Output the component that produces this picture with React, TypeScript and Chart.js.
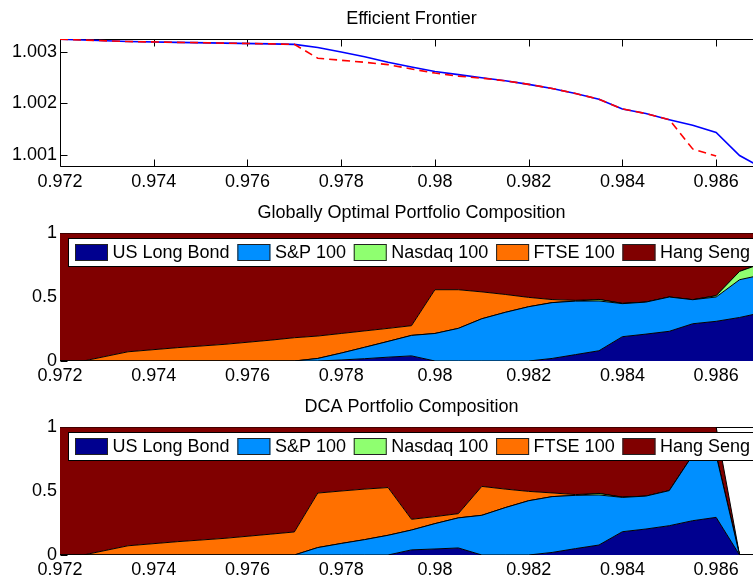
import React, { useEffect, useRef } from "react";
import { Chart, registerables } from "chart.js";
Chart.register(...registerables);

// ---------- data ----------
const risk = [0.972, 0.9725, 0.97345, 0.9745, 0.9755, 0.9765, 0.977, 0.9775, 0.978, 0.9785, 0.979, 0.9795, 0.98, 0.9805, 0.981, 0.9815, 0.982, 0.9825, 0.983, 0.9835, 0.984, 0.9845, 0.985, 0.9855, 0.986, 0.9865, 0.987];

const frontierGlobal = [1.00325, 1.003235, 1.003205, 1.00319, 1.003175, 1.00316, 1.00315, 1.00309, 1.003, 1.00291, 1.0028, 1.00271, 1.00262, 1.00256, 1.0025, 1.00244, 1.00237, 1.00229, 1.00219, 1.00208, 1.00189, 1.0018, 1.00168, 1.00157, 1.00143, 1.00098, 1.00073];
const frontierDca = [1.00325, 1.003235, 1.003205, 1.00319, 1.003175, 1.00316, 1.00315, 1.00288, 1.00284, 1.0028, 1.002755, 1.00267, 1.00259, 1.00253, 1.00249, 1.00244, 1.00237, 1.00229, 1.00219, 1.00208, 1.00189, 1.0018, 1.00168, 1.00111, 1.00097, null, null];

const globalBond = [0, 0, 0, 0, 0, 0, 0, 0, 0.008, 0.018, 0.03, 0.04, 0, 0, 0, 0, 0, 0.02, 0.05, 0.08, 0.19, 0.21, 0.232, 0.291, 0.31, 0.34, 0.38];
const globalSp = [0, 0, 0, 0, 0, 0, 0, 0.02, 0.054, 0.089, 0.123, 0.16, 0.215, 0.255, 0.33, 0.38, 0.424, 0.436, 0.418, 0.389, 0.258, 0.25, 0.268, 0.188, 0.19, 0.295, 0.295];
const globalNas = [0, 0, 0, 0, 0, 0, 0, 0, 0, 0, 0, 0, 0, 0, 0, 0, 0, 0, 0, 0.012, 0.002, 0, 0, 0, 0.01, 0.065, 0.09];
const globalFtse = [0, 0, 0.072, 0.104, 0.13, 0.163, 0.182, 0.175, 0.153, 0.128, 0.102, 0.076, 0.342, 0.302, 0.21, 0.14, 0.073, 0.024, 0.006, 0, 0, 0, 0, 0, 0, 0, 0];
const globalHang = [1, 1, 0.928, 0.896, 0.87, 0.837, 0.818, 0.805, 0.785, 0.765, 0.745, 0.724, 0.443, 0.443, 0.46, 0.48, 0.503, 0.52, 0.526, 0.519, 0.55, 0.54, 0.5, 0.521, 0.49, 0.3, 0.235];

const dcaBond = [0, 0, 0, 0, 0, 0, 0, 0, 0, 0, 0, 0.04, 0.047, 0.055, 0, 0, 0, 0.02, 0.05, 0.078, 0.182, 0.203, 0.229, 0.268, 0.294, 0];
const dcaSp = [0, 0, 0, 0, 0, 0, 0, 0.058, 0.09, 0.12, 0.154, 0.155, 0.198, 0.235, 0.31, 0.37, 0.424, 0.436, 0.416, 0.391, 0.268, 0.257, 0.274, 0.512, 0.486, 0];
const dcaNas = [0, 0, 0, 0, 0, 0, 0, 0, 0, 0, 0, 0, 0, 0, 0, 0, 0, 0, 0, 0.012, 0.002, 0, 0, 0, 0, 0];
const dcaFtse = [0, 0, 0.072, 0.104, 0.13, 0.163, 0.18, 0.426, 0.41, 0.395, 0.373, 0.084, 0.055, 0.033, 0.226, 0.145, 0.073, 0.029, 0.006, 0, 0, 0, 0, 0, 0, 0];
const dcaHang = [1, 1, 0.928, 0.896, 0.87, 0.837, 0.82, 0.516, 0.5, 0.485, 0.473, 0.721, 0.7, 0.677, 0.464, 0.485, 0.503, 0.515, 0.528, 0.519, 0.548, 0.54, 0.497, 0.22, 0.22, 0];

const assetNames = ["US Long Bond", "S&P 100", "Nasdaq 100", "FTSE 100", "Hang Seng"];
const assetColors = ["#00008F", "#008FFF", "#8FFF70", "#FF7000", "#800000"];

const xTickValues = [0.972, 0.974, 0.976, 0.978, 0.98, 0.982, 0.984, 0.986];
const xTickLabels = ["0.972", "0.974", "0.976", "0.978", "0.98", "0.982", "0.984", "0.986"];
const frontierYTicks = [1.001, 1.002, 1.003];
const frontierYLabels = ["1.001", "1.002", "1.003"];
const weightYTicks = [0, 0.5, 1];
const weightYLabels = ["0", "0.5", "1"];

const titles = ["Efficient Frontier", "Globally Optimal Portfolio Composition", "DCA Portfolio Composition"];

const X_MIN = 0.972;
const X_MAX = 0.987;
const FRONTIER_MIN = 1.000757;
const FRONTIER_MAX = 1.003255;

// ---------- helpers ----------
const FONT = '"Liberation Sans", Arial, Helvetica, sans-serif';
const CANVAS_W = 763;
const CANVAS_H = 194;

const pts = (ys: (number | null)[]) =>
  ys.map((y, i) => ({ x: risk[i], y })).filter((p) => p.y !== null);

const framePlugin = {
  id: "matlabFrame",
  beforeDatasetsDraw(chart: any) {
    const { ctx, chartArea: a, scales } = chart;
    ctx.save();
    ctx.strokeStyle = "#000";
    ctx.lineWidth = 1;
    const L = Math.round(a.left) + 0.5;
    const T = Math.round(a.top) + 0.5;
    const R = Math.round(a.right) - 0.5;
    const B = Math.round(a.bottom) - 0.5;
    ctx.beginPath();
    ctx.rect(L, T, R - L, B - T);
    const tl = 7;
    scales.x.ticks.forEach((t: any) => {
      const px = Math.round(scales.x.getPixelForValue(t.value)) + 0.5;
      ctx.moveTo(px, B);
      ctx.lineTo(px, B - tl);
      ctx.moveTo(px, T);
      ctx.lineTo(px, T + tl);
    });
    scales.y.ticks.forEach((t: any) => {
      const py = Math.round(scales.y.getPixelForValue(t.value)) + 0.5;
      ctx.moveTo(L, py);
      ctx.lineTo(L + tl, py);
      ctx.moveTo(R, py);
      ctx.lineTo(R - tl, py);
    });
    ctx.stroke();
    ctx.restore();
  },
};

const boxLegendPlugin = {
  id: "boxLegend",
  afterDatasetsDraw(chart: any) {
    const { ctx, chartArea: a } = chart;
    ctx.save();
    ctx.font = `18px ${FONT}`;
    const items = chart.data.datasets.map((d: any) => ({ label: d.label, color: d.backgroundColor }));
    const sw = 33, sh = 17, gapText = 4.5, gapItem = 7.8, padL = 7, padR = 10, bh = 28;
    let width = padL + padR;
    items.forEach((it: any, i: number) => {
      width += sw + gapText + ctx.measureText(it.label).width + (i < items.length - 1 ? gapItem : 0);
    });
    const bx = Math.round(a.left) + 8;
    const by = Math.round(a.top) + 5;
    ctx.fillStyle = "#fff";
    ctx.fillRect(bx, by, width, bh);
    ctx.strokeStyle = "#000";
    ctx.lineWidth = 1;
    ctx.strokeRect(bx + 0.5, by + 0.5, width, bh);
    let x = bx + padL;
    ctx.textBaseline = "middle";
    ctx.textAlign = "left";
    items.forEach((it: any) => {
      ctx.fillStyle = it.color;
      ctx.fillRect(x, by + 6, sw, sh);
      ctx.strokeStyle = "#222";
      ctx.strokeRect(x + 0.5, by + 6.5, sw - 1, sh - 1);
      ctx.fillStyle = "#000";
      const tx = x + sw + gapText;
      ctx.fillText(it.label, tx, by + bh / 2 + 1);
      x = tx + ctx.measureText(it.label).width + gapItem;
    });
    ctx.restore();
  },
};

function buildOptions(title: string, yMin: number, yMax: number, yTicks: number[], yLabels: string[], stacked: boolean) {
  const tickFont = { family: FONT, size: 18, weight: "normal" as const };
  return {
    responsive: false,
    animation: false as const,
    layout: { padding: { left: 0, right: 0, top: 0, bottom: 0 } },
    plugins: {
      legend: { display: false },
      tooltip: { enabled: false },
      title: {
        display: true,
        text: title,
        fullSize: false,
        color: "#000",
        font: { family: FONT, size: 18, weight: "normal" as const },
        padding: { top: 8, bottom: 9.4 },
      },
    },
    scales: {
      x: {
        type: "linear" as const,
        min: X_MIN,
        max: X_MAX,
        grid: { display: false, drawTicks: false },
        border: { display: false },
        afterBuildTicks: (s: any) => {
          s.ticks = xTickValues.map((v) => ({ value: v }));
        },
        afterFit: (s: any) => {
          s.height = 27;
        },
        ticks: {
          autoSkip: false,
          maxRotation: 0,
          minRotation: 0,
          padding: 4,
          color: "#000",
          font: tickFont,
          callback: (_v: any, i: number) => xTickLabels[i],
        },
      },
      y: {
        type: "linear" as const,
        min: yMin,
        max: yMax,
        stacked,
        grid: { display: false, drawTicks: false },
        border: { display: false },
        afterBuildTicks: (s: any) => {
          s.ticks = yTicks.map((v) => ({ value: v }));
        },
        afterFit: (s: any) => {
          s.width = 60;
        },
        ticks: {
          padding: 3,
          color: "#000",
          font: tickFont,
          callback: (_v: any, i: number) => yLabels[i],
        },
      },
    },
  };
}

function frontierConfig(): any {
  return {
    type: "line",
    data: {
      datasets: [
        {
          label: "Globally optimal",
          data: pts(frontierGlobal),
          borderColor: "#0000FF",
          borderWidth: 1.6,
          pointRadius: 0,
          fill: false,
          tension: 0,
          order: 1,
        },
        {
          label: "DCA",
          data: pts(frontierDca),
          borderColor: "#FF0000",
          borderWidth: 1.6,
          borderDash: [8, 5],
          pointRadius: 0,
          fill: false,
          tension: 0,
          order: 0,
        },
      ],
    },
    options: buildOptions(titles[0], FRONTIER_MIN, FRONTIER_MAX, frontierYTicks, frontierYLabels, false),
    plugins: [framePlugin],
  };
}

function areaConfig(title: string, series: number[][]): any {
  return {
    type: "line",
    data: {
      datasets: series.map((s, k) => ({
        label: assetNames[k],
        data: pts(s),
        backgroundColor: assetColors[k],
        borderColor: "#000",
        borderWidth: 1,
        pointRadius: 0,
        tension: 0,
        fill: k === 0 ? "origin" : "-1",
      })),
    },
    options: buildOptions(title, 0, 1, weightYTicks, weightYLabels, true),
    plugins: [framePlugin, boxLegendPlugin],
  };
}

function ChartCanvas({ make, top }: { make: () => any; top: number }) {
  const ref = useRef<HTMLCanvasElement | null>(null);
  useEffect(() => {
    if (!ref.current) return;
    const chart = new Chart(ref.current, make());
    return () => chart.destroy();
  }, []);
  return (
    <canvas
      ref={ref}
      width={CANVAS_W}
      height={CANVAS_H}
      style={{ position: "absolute", left: 0, top, width: CANVAS_W, height: CANVAS_H, display: "block" }}
    />
  );
}

export default function App() {
  return (
    <div
      style={{
        position: "fixed",
        left: 0,
        top: 0,
        width: 753,
        height: 585,
        overflow: "hidden",
        background: "#fff",
      }}
    >
      <ChartCanvas top={0} make={frontierConfig} />
      <ChartCanvas
        top={194}
        make={() => areaConfig(titles[1], [globalBond, globalSp, globalNas, globalFtse, globalHang])}
      />
      <ChartCanvas
        top={388}
        make={() => areaConfig(titles[2], [dcaBond, dcaSp, dcaNas, dcaFtse, dcaHang])}
      />
    </div>
  );
}
